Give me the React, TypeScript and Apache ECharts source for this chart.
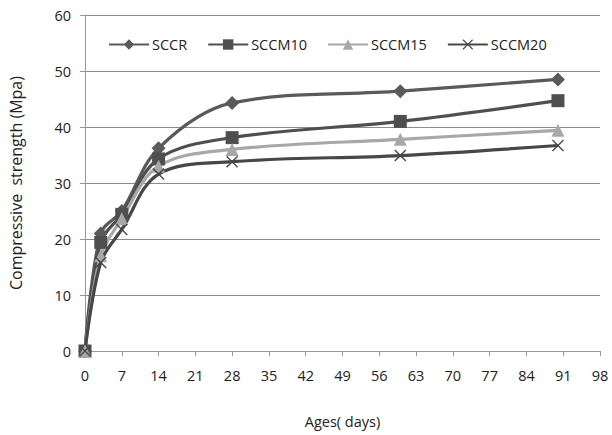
import React, { useEffect, useRef } from "react";
import * as echarts from "echarts";

const ages = [0, 3, 7, 14, 28, 60, 90];
const sccr = [0, 21, 25, 36.2, 44.3, 46.4, 48.5];
const sccm10 = [0, 19.4, 24.4, 34.3, 38.1, 41.0, 44.7];
const sccm15 = [0, 17.0, 23.6, 33.0, 36.0, 37.8, 39.4];
const sccm20 = [0, 15.8, 21.7, 31.6, 33.8, 34.9, 36.7];
const seriesNames = ["SCCR", "SCCM10", "SCCM15", "SCCM20"];

const X_SYMBOL =
  "path://M0,0.8 L0.8,0 L5,4.2 L9.2,0 L10,0.8 L5.8,5 L10,9.2 L9.2,10 L5,5.8 L0.8,10 L0,9.2 L4.2,5 Z";

const FONT = "'Open Sans', 'Noto Sans', sans-serif";

export default function App() {
  const ref = useRef<HTMLDivElement>(null);
  useEffect(() => {
    if (!ref.current) return;
    const chart = echarts.init(ref.current, null, { renderer: "svg" });
    const pair = (ys: number[]) => ages.map((a, i) => [a, ys[i]]);
    const mk = (
      name: string,
      ys: number[],
      color: string,
      symbol: string,
      size: number
    ) => ({
      name,
      type: "line",
      data: pair(ys),
      smooth: 0.35,
      symbol,
      symbolSize: size,
      showSymbol: true,
      lineStyle: { color, width: 3.2 },
      itemStyle: { color, borderWidth: 0 },
      z: 3,
    });
    chart.setOption({
      animation: false,
      backgroundColor: "#ffffff",
      textStyle: { fontFamily: FONT },
      grid: { left: 80, right: 12, top: 15, bottom: 84, containLabel: false },
      legend: {
        data: seriesNames,
        top: 32,
        left: 103,
        itemGap: 20,
        itemWidth: 40,
        itemHeight: 13,
        textStyle: { fontSize: 14.5, color: "#222", fontFamily: FONT, padding: [0, 0, 0, -2] },
      },
      xAxis: {
        type: "value",
        min: 0,
        max: 98,
        interval: 7,
        name: "Ages( days)",
        nameLocation: "middle",
        nameGap: 63,
        nameTextStyle: { fontSize: 14.5, color: "#222", fontFamily: FONT },
        axisLine: { show: true, lineStyle: { color: "#999", width: 1 } },
        axisTick: { show: true, length: 5, lineStyle: { color: "#999" } },
        axisLabel: { fontSize: 14.5, color: "#222", margin: 17, fontFamily: FONT },
        splitLine: { show: false },
      },
      yAxis: {
        type: "value",
        min: 0,
        max: 60,
        interval: 10,
        name: "Compressive  strength (Mpa)",
        nameLocation: "middle",
        nameGap: 61,
        nameTextStyle: { fontSize: 16, color: "#222", fontFamily: FONT },
        axisLine: { show: true, lineStyle: { color: "#999", width: 1 } },
        axisTick: { show: true, length: 5, inside: false, lineStyle: { color: "#999" } },
        axisLabel: { fontSize: 14.5, color: "#222", margin: 14, fontFamily: FONT },
        splitLine: { show: true, lineStyle: { color: "#8c8c8c", width: 1 } },
      },
      series: [
        mk("SCCR", sccr, "#5a5a5a", "diamond", 14),
        mk("SCCM10", sccm10, "#4f4f4f", "rect", 13),
        mk("SCCM15", sccm15, "#a8a8a8", "triangle", 13),
        mk("SCCM20", sccm20, "#474747", X_SYMBOL, 12),
      ],
    });
    return () => chart.dispose();
  }, []);
  return (
    <div
      ref={ref}
      style={{ position: "fixed", left: 0, top: 0, width: 612, height: 435 }}
    />
  );
}
